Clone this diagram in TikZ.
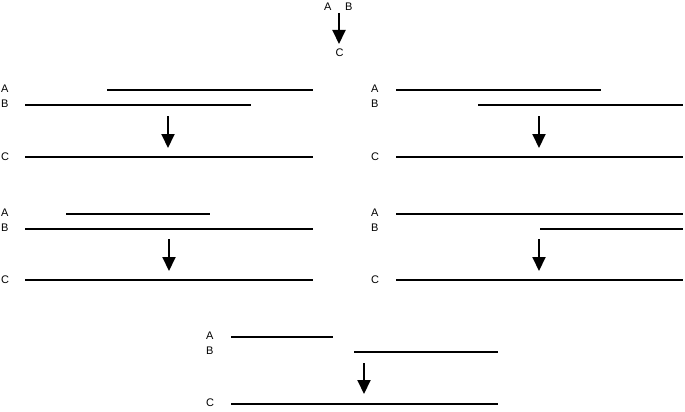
\documentclass[tikz,border=0pt]{standalone}
\usepackage{fontspec}
\setmainfont{Liberation Sans}
\usetikzlibrary{arrows.meta}
\begin{document}
\begin{tikzpicture}[x=1pt,y=-1pt,
  seg/.style={line width=2pt},
  conv/.style={line width=2pt,-{Triangle[width=13pt,length=14pt]}},
  lbl/.style={anchor=west,inner sep=0pt,font=\fontsize{11}{12}\selectfont}]
\useasboundingbox (0,0) rectangle (685,412);
% legend
\node[lbl] (lA) at (324,7) {A};
\node[lbl] (lB) at (345,7) {B};
\node[anchor=center,inner sep=0pt,font=\fontsize{11}{12}\selectfont] (lC) at (339.5,53) {C};
\coordinate (l0) at (339,13);
\coordinate (l1) at (339,44);
\draw[conv] (l0) -- (l1);
% panel 1
\node[lbl] (p1A) at (1,89) {A};
\node[lbl] (p1B) at (1,104) {B};
\node[lbl] (p1C) at (1,157) {C};
\coordinate (p1a0) at (107,90); \coordinate (p1a1) at (313,90);
\coordinate (p1b0) at (25,105); \coordinate (p1b1) at (251,105);
\coordinate (p1c0) at (25,157); \coordinate (p1c1) at (313,157);
\coordinate (p1r0) at (168,116); \coordinate (p1r1) at (168,148);
\draw[seg] (p1a0) -- (p1a1);
\draw[seg] (p1b0) -- (p1b1);
\draw[seg] (p1c0) -- (p1c1);
\draw[conv] (p1r0) -- (p1r1);
% panel 2
\node[lbl] (p2A) at (371,89) {A};
\node[lbl] (p2B) at (371,104) {B};
\node[lbl] (p2C) at (371,157) {C};
\coordinate (p2a0) at (396,90); \coordinate (p2a1) at (601,90);
\coordinate (p2b0) at (478,105); \coordinate (p2b1) at (683,105);
\coordinate (p2c0) at (396,157); \coordinate (p2c1) at (683,157);
\coordinate (p2r0) at (539,116); \coordinate (p2r1) at (539,148);
\draw[seg] (p2a0) -- (p2a1);
\draw[seg] (p2b0) -- (p2b1);
\draw[seg] (p2c0) -- (p2c1);
\draw[conv] (p2r0) -- (p2r1);
% panel 3
\node[lbl] (p3A) at (1,213) {A};
\node[lbl] (p3B) at (1,228) {B};
\node[lbl] (p3C) at (1,280) {C};
\coordinate (p3a0) at (66,214); \coordinate (p3a1) at (210,214);
\coordinate (p3b0) at (25,229); \coordinate (p3b1) at (313,229);
\coordinate (p3c0) at (25,280); \coordinate (p3c1) at (313,280);
\coordinate (p3r0) at (169,239); \coordinate (p3r1) at (169,271);
\draw[seg] (p3a0) -- (p3a1);
\draw[seg] (p3b0) -- (p3b1);
\draw[seg] (p3c0) -- (p3c1);
\draw[conv] (p3r0) -- (p3r1);
% panel 4
\node[lbl] (p4A) at (371,213) {A};
\node[lbl] (p4B) at (371,228) {B};
\node[lbl] (p4C) at (371,280) {C};
\coordinate (p4a0) at (396,214); \coordinate (p4a1) at (683,214);
\coordinate (p4b0) at (540,229); \coordinate (p4b1) at (683,229);
\coordinate (p4c0) at (396,280); \coordinate (p4c1) at (683,280);
\coordinate (p4r0) at (539,239); \coordinate (p4r1) at (539,271);
\draw[seg] (p4a0) -- (p4a1);
\draw[seg] (p4b0) -- (p4b1);
\draw[seg] (p4c0) -- (p4c1);
\draw[conv] (p4r0) -- (p4r1);
% panel 5
\node[lbl] (p5A) at (206,336) {A};
\node[lbl] (p5B) at (206,351) {B};
\node[lbl] (p5C) at (206,403) {C};
\coordinate (p5a0) at (231,337); \coordinate (p5a1) at (333,337);
\coordinate (p5b0) at (354,352); \coordinate (p5b1) at (498,352);
\coordinate (p5c0) at (231,404); \coordinate (p5c1) at (498,404);
\coordinate (p5r0) at (364,363); \coordinate (p5r1) at (364,394);
\draw[seg] (p5a0) -- (p5a1);
\draw[seg] (p5b0) -- (p5b1);
\draw[seg] (p5c0) -- (p5c1);
\draw[conv] (p5r0) -- (p5r1);
\end{tikzpicture}
\end{document}
